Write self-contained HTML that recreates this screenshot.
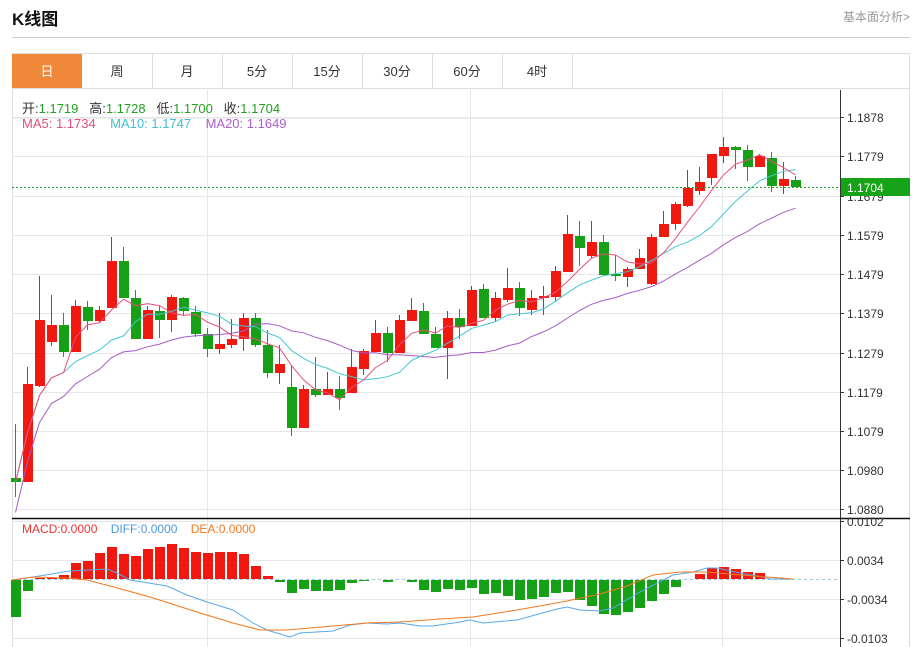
<!DOCTYPE html>
<html><head><meta charset="utf-8"><style>
body{margin:0;width:922px;height:647px;overflow:hidden;background:#fff;font-family:"Liberation Sans","Noto Sans CJK SC",sans-serif;position:relative}
.t{position:absolute;white-space:nowrap}
</style></head><body>
<div class="t" style="left:12px;top:5px;font-size:17px;font-weight:bold;color:#111">K线图</div>
<div class="t" style="left:843px;top:8px;font-size:12px;color:#999">基本面分析&gt;</div>
<div style="position:absolute;left:12px;top:37px;width:898px;height:1px;background:#ccc"></div>
<svg id="s" width="922" height="647" style="position:absolute;left:0;top:0" font-family="Liberation Sans, Noto Sans CJK SC, sans-serif"></svg>
<div class="t" style="left:22px;top:98px;font-size:13px;color:#333">开:<span style="color:#22a022">1.1719</span>&nbsp;&nbsp; 高:<span style="color:#22a022">1.1728</span>&nbsp;&nbsp; 低:<span style="color:#22a022">1.1700</span>&nbsp;&nbsp; 收:<span style="color:#22a022">1.1704</span></div>
<div class="t" style="left:22px;top:116px;font-size:13px"><span style="color:#e0507a">MA5: 1.1734</span>&nbsp;&nbsp;&nbsp; <span style="color:#40c0d0">MA10: 1.1747</span>&nbsp;&nbsp;&nbsp; <span style="color:#b05cc8">MA20: 1.1649</span></div>
<div class="t" style="left:22px;top:522px;font-size:12px"><span style="color:#e33">MACD:0.0000</span>&nbsp;&nbsp;&nbsp; <span style="color:#4a9ae0">DIFF:0.0000</span>&nbsp;&nbsp;&nbsp; <span style="color:#f07a20">DEA:0.0000</span></div>
<script>
var s=document.getElementById('s'),h='';
function L(x1,y1,x2,y2,c,w,d){h+='<line x1="'+x1+'" y1="'+y1+'" x2="'+x2+'" y2="'+y2+'" stroke="'+c+'" stroke-width="'+(w||1)+'"'+(d?' stroke-dasharray="'+d+'"':'')+'/>';}
function T(x,y,t,c,sz,a){h+='<text x="'+x+'" y="'+y+'" fill="'+c+'" font-size="'+sz+'"'+(a?' text-anchor="'+a+'"':'')+'>'+t+'</text>';}
// tabs
var tabs=['日','周','月','5分','15分','30分','60分','4时'];
L(12,53.5,910,53.5,'#ddd');L(12,88.5,910,88.5,'#ddd');
L(12.5,53,12.5,647,'#ddd');L(909.5,53,909.5,647,'#ddd');
for(var i=0;i<8;i++){var x=12+i*70;
 if(i==0)h+='<rect x="12" y="54" width="70" height="34" fill="#f0883a"/>';
 else L(x+70.5,54,x+70.5,88,'#ddd');
 T(x+35,76,tabs[i],i==0?'#fff':'#333',13,'middle');}
L(12,118.5,840,118.5,'#eee');
// grid
var py=[117,156,196,235,274,313,353,392,431,470,509],pl=['1.1878','1.1779','1.1679','1.1579','1.1479','1.1379','1.1279','1.1179','1.1079','1.0980','1.0880'];
for(i=0;i<py.length;i++){L(12,py[i]+.5,840,py[i]+.5,'#e6e6e6');L(840,py[i]+.5,844,py[i]+.5,'#333');T(847,py[i]+5,pl[i],'#333',12);}
[207,470,722].forEach(function(x){L(x+.5,90,x+.5,647,'#e2e8ef');});
L(840.5,90,840.5,647,'#333');
L(12,518.5,910,518.5,'#111',1.5);
var my=[521,560,599,638],ml=['0.0102','0.0034','-0.0034','-0.0103'];
for(i=0;i<4;i++){L(12,my[i]+.5,840,my[i]+.5,'#e6e6e6');L(840,my[i]+.5,844,my[i]+.5,'#333');T(847,my[i]+5,ml[i],'#333',12);}
L(12,579.5,840,579.5,'#9cc8e0',1,'3,3');
// candles [open,close,high,low] in y px
var C=[[478,482,424,497],[482,384,367,482],[386,320,276,387],[342,325,295,346],[325,352,313,357],[352,306,300,352],[307,321,301,330],[321,310,306,322],[308,261,237,308],[261,298,247,298],
[298,339,290,339],[339,310,306,339],[311,320,306,338],[320,297,295,332],[298,311,297,316],[312,334,306,337],[334,349,328,357],[349,344,313,354],[345,339,319,348],[339,318,313,351],
[318,345,313,347],[345,373,330,378],[373,364,345,384],[387,428,366,436],[428,389,385,428],[389,395,357,397],[395,389,372,395],[389,398,376,410],[393,367,349,393],[369,351,349,375],
[352,333,320,352],[333,353,327,362],[353,320,315,353],[321,310,298,321],[311,334,303,334],[334,348,327,348],[348,318,311,379],[318,327,309,339],[326,290,286,326],[289,318,284,318],
[318,298,292,322],[300,288,268,302],[288,308,282,316],[310,298,290,315],[298,296,286,315],[297,271,266,302],[272,234,215,272],[236,248,221,266],[256,242,221,258],[242,275,235,276],
[274,276,255,281],[277,269,267,287],[269,258,249,269],[284,237,234,285],[237,224,211,237],[224,204,202,230],[206,188,170,207],[191,182,167,195],[178,154,154,185],[156,147,137,163],
[147,150,146,169],[150,167,145,181],[167,156,154,167],[158,186,152,192],[186,179,162,194],[180,187,176,187]];
var R='#f0180f',G='#15a015';
function X(i){return 15+i*12;}
C.forEach(function(c,i){var x=X(i),up=c[1]<c[0],col=up?R:G;var t=Math.min(c[0],c[1]),b=Math.max(c[0],c[1]);if(b-t<2)b=t+2;
 L(x+.5,c[2],x+.5,c[3],col);h+='<rect x="'+(x-4)+'" y="'+t+'" width="10" height="'+(b-t)+'" fill="'+col+'"/>';});
function ma(n,col){var p=[];for(var i=0;i<C.length;i++){var s0=0,k=0;for(var j=Math.max(0,i-n+1);j<=i;j++){s0+=C[j][1];k++;}
 var v=s0/k;if(n==20&&i<19)v=v+(19-i)*1.6;p.push(X(i)+.5+','+v.toFixed(1));}
 h+='<polyline points="'+p.join(' ')+'" fill="none" stroke="'+col+'" stroke-width="1"/>';}
ma(20,'#a65cc8');ma(10,'#45c6d2');ma(5,'#e8507a');
L(12,187.5,840,187.5,'#22a022',1,'2,2');
h+='<rect x="841" y="178" width="69" height="18" fill="#17a317"/>';T(847,192,'1.1704','#fff',12);
// macd histogram
var M=[-37,-11,1,1,4,16,18,26,32,25,23,30,32,35,31,27,26,27,27,25,13,3,-2,-13,-9,-11,-11,-10,-3,-1,0,-2,0,-2,-10,-12,-9,-10,-8,-14,-13,-16,-20,-19,-17,-13,-12,-20,-26,-34,-35,-32,-28,-21,-14,-7,0,5,11,12,10,7,6,0,0,0];
M.forEach(function(v,i){if(!v)return;var x=X(i)-4;if(v>0)h+='<rect x="'+x+'" y="'+(579-v)+'" width="10" height="'+v+'" fill="'+R+'"/>';else h+='<rect x="'+x+'" y="580" width="10" height="'+(-v)+'" fill="'+G+'"/>';});
var D='12,580 33,577 70,571 107,569 117,573 130,580 167,586 187,595 207,602 233,610 253,623 267,630 290,637 300,633 333,631 350,625 367,623 387,624 400,623 420,626 433,626 460,622 470,620 483,623 517,620 557,609 567,607 580,610 600,611 613,608 640,592 673,575 693,572 707,568 717,568 740,573 763,577 770,579 793,579';
var E='12,580 33,577 67,578 87,580 110,586 150,597 200,613 233,623 260,630 287,630 333,626 367,623 400,622 440,619 473,617 517,610 567,601 600,594 627,586 653,575 680,572 707,572 740,575 767,577 793,579';
h+='<polyline points="'+D+'" fill="none" stroke="#5aa8e8" stroke-width="1"/>';
h+='<polyline points="'+E+'" fill="none" stroke="#f07a20" stroke-width="1"/>';
s.innerHTML=h;
</script>
</body></html>
